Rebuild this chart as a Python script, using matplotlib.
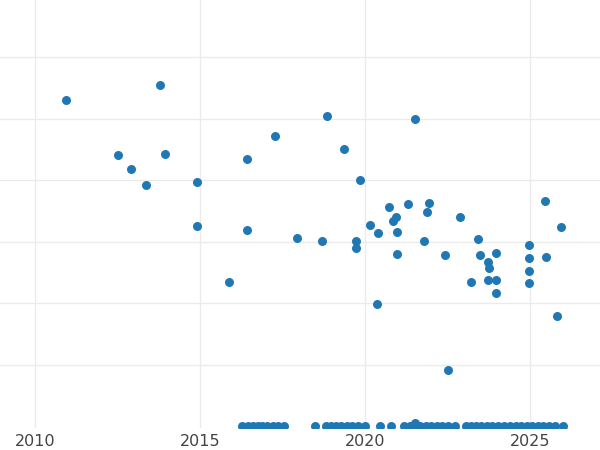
import matplotlib
matplotlib.use("Agg")
import matplotlib.pyplot as plt

years = [2010.94,2012.52,2012.91,2013.36,2013.79,2013.94,2014.91,2014.91,2015.88,2016.42,2016.42,2017.27,
         2017.94,2018.70,2018.85,2019.36,2019.73,2019.73,2019.85,2020.15,2020.36,2020.39,2020.73,2020.85,
         2020.94,2020.97,2020.97,2021.30,2021.52,2021.79,2021.88,2021.94,2022.52,2022.42,2022.88,2023.21,
         2023.42,2023.48,2023.73,2023.76,2023.73,2023.97,2023.97,2023.97,2024.97,2024.97,2024.97,2024.97,
         2025.45,2025.48,2025.82,2025.94]
values = [5.30,4.41,4.18,3.92,5.54,4.42,3.97,3.25,2.34,4.34,3.19,4.72,
          3.06,3.01,5.04,4.50,3.01,2.89,4.00,3.27,1.98,3.14,3.56,3.33,
          3.40,3.15,2.80,3.61,4.99,3.01,3.48,3.63,0.91,2.78,3.40,2.34,
          3.04,2.78,2.67,2.57,2.37,2.81,2.37,2.16,2.94,2.73,2.52,2.33,
          3.66,2.75,1.79,3.24]
zero_years = [2016.27,2016.45,2016.61,2016.76,2016.88,2017.03,2017.21,2017.36,2017.55,2018.48,2018.82,
              2018.97,2019.12,2019.27,2019.45,2019.61,2019.79,2020.0,2020.45,2020.79,2021.18,2021.36,
              2021.52,2021.67,2021.85,2022.0,2022.18,2022.33,2022.52,2022.73,2023.06,2023.21,2023.36,
              2023.52,2023.70,2023.85,2024.03,2024.21,2024.39,2024.58,2024.73,2024.91,2025.06,2025.24,
              2025.39,2025.58,2025.76,2026.0,2021.52]
zero_values = [0.0]*48 + [0.05]
xticks = [2010, 2015, 2020, 2025]

fig = plt.figure(figsize=(6, 4.5), dpi=100)
ax = fig.add_axes([0, 22/450, 1, 428/450])
ax.scatter(years + zero_years, values + zero_values, s=42, color="#1f77b4", zorder=3, clip_on=True, linewidths=0)
ax.set_xlim(2008.94, 2027.12)
ax.set_ylim(-0.03, 6.93)
ax.set_xticks(xticks)
ax.set_xticklabels([str(x) for x in xticks])
ax.set_yticks([1, 2, 3, 4, 5, 6])
ax.set_yticklabels([])
ax.grid(True, color="#ebebeb", linewidth=1)
ax.set_axisbelow(True)
for s in ax.spines.values():
    s.set_visible(False)
ax.tick_params(length=0, labelsize=11.5, labelcolor="#444444", pad=4)
fig.savefig("out.png", dpi=100)
